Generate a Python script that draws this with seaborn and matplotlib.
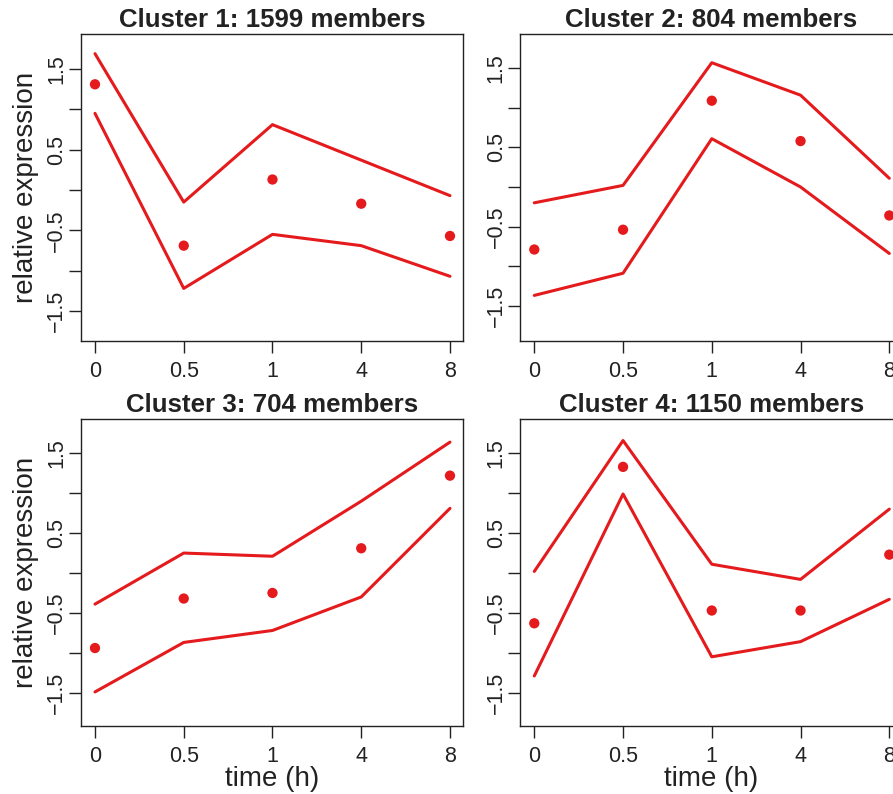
import numpy as np
import pandas as pd
import matplotlib
matplotlib.use("Agg")
import matplotlib.pyplot as plt
import seaborn as sns

# Time points (categorical, evenly spaced on the x axis)
time_labels = ["0", "0.5", "1", "4", "8"]

cluster_titles = [
    "Cluster 1: 1599 members",
    "Cluster 2: 804 members",
    "Cluster 3: 704 members",
    "Cluster 4: 1150 members",
]

# Per-cluster profile: centre value and upper/lower envelope
c1_center = [1.31, -0.69, 0.13, -0.17, -0.57]
c1_upper = [1.69, -0.15, 0.81, 0.37, -0.07]
c1_lower = [0.95, -1.22, -0.55, -0.69, -1.07]

c2_center = [-0.79, -0.54, 1.09, 0.58, -0.36]
c2_upper = [-0.20, 0.02, 1.57, 1.16, 0.11]
c2_lower = [-1.37, -1.09, 0.61, 0.00, -0.84]

c3_center = [-0.94, -0.32, -0.25, 0.31, 1.22]
c3_upper = [-0.39, 0.25, 0.21, 0.90, 1.64]
c3_lower = [-1.49, -0.87, -0.72, -0.30, 0.81]

c4_center = [-0.63, 1.33, -0.47, -0.47, 0.23]
c4_upper = [0.02, 1.66, 0.11, -0.08, 0.80]
c4_lower = [-1.29, 0.99, -1.05, -0.86, -0.33]

y_limits = [(-1.872, 1.930), (-1.946, 1.929), (-1.917, 1.926), (-1.917, 1.926)]

y_ticks = [-1.5, -1.0, -0.5, 0.0, 0.5, 1.0, 1.5]
y_ticklabels = ["\u22121.5", "", "\u22120.5", "", "0.5", "", "1.5"]

centers = [c1_center, c2_center, c3_center, c4_center]
uppers = [c1_upper, c2_upper, c3_upper, c4_upper]
lowers = [c1_lower, c2_lower, c3_lower, c4_lower]

RED = "#E41A1C"
DARK = "#222222"

sns.set_theme(style="white")
plt.rcParams["font.family"] = ["Liberation Sans", "DejaVu Sans"]
plt.rcParams["axes.edgecolor"] = DARK
plt.rcParams["text.color"] = DARK
plt.rcParams["axes.labelcolor"] = DARK
plt.rcParams["xtick.color"] = DARK
plt.rcParams["ytick.color"] = DARK

W, H = 893, 794
fig = plt.figure(figsize=(W / 100, H / 100), dpi=100)

col_left = [80.7, 520.0]
row_top = [34.3, 419.3]
ax_w, ax_h = 382.6, 306.7

for i in range(4):
    r, c = divmod(i, 2)
    left = col_left[c] / W
    bottom = 1 - (row_top[r] + ax_h) / H
    ax = fig.add_axes([left, bottom, ax_w / W, ax_h / H])

    pos = np.arange(len(time_labels))
    env = pd.DataFrame({
        "pos": np.concatenate([pos, pos]),
        "value": np.concatenate([uppers[i], lowers[i]]),
        "band": ["upper"] * len(pos) + ["lower"] * len(pos),
    })
    pts = pd.DataFrame({"pos": pos, "value": centers[i]})

    sns.lineplot(data=env, x="pos", y="value", units="band", estimator=None,
                 color=RED, linewidth=2.2, ax=ax, legend=False)
    sns.scatterplot(data=pts, x="pos", y="value", color=RED, s=55,
                    edgecolor="none", ax=ax, legend=False, zorder=3)

    ax.set_xlim(-0.161, 4.15)
    ax.set_ylim(*y_limits[i])
    ax.set_xticks(pos)
    ax.set_xticklabels(time_labels)
    ax.set_yticks(y_ticks)
    ax.set_yticklabels(y_ticklabels, rotation=90, va="center")

    for sp in ax.spines.values():
        sp.set_visible(True)
        sp.set_linewidth(1.0)
        sp.set_color(DARK)

    ax.tick_params(axis="both", which="major", direction="out", length=8.6,
                   width=1.0, labelsize=15.5, left=True, bottom=True)
    ax.tick_params(axis="y", pad=1)
    ax.tick_params(axis="x", pad=6)

    ax.set_title(cluster_titles[i], fontsize=18.6, fontweight="bold", pad=5.5)

    if c == 0:
        ax.set_ylabel("relative expression", fontsize=20, va="center")
        ax.yaxis.set_label_coords(-0.143, 0.5)
    else:
        ax.set_ylabel("")
    if r == 1:
        ax.set_xlabel("time (h)", fontsize=20, va="baseline")
        ax.xaxis.set_label_coords(0.5, -0.197)
    else:
        ax.set_xlabel("")

fig.savefig("out.png", dpi=100)
